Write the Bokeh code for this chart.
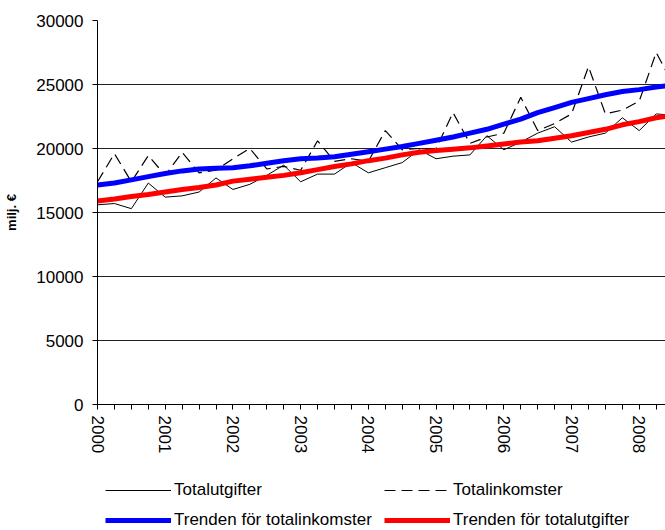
from bokeh.plotting import figure
from bokeh.models import Legend, LegendItem, FixedTicker, Range1d
from bokeh.layouts import column
from bokeh.embed import file_html
from bokeh.resources import INLINE

# quarterly index: 0 = 2000 Q1
quarters = list(range(35))
years = ["2000", "2001", "2002", "2003", "2004", "2005", "2006", "2007", "2008"]

totalutgifter = [15600, 15700, 15300, 17300, 16200, 16300, 16600, 17700,
                 16800, 17200, 17900, 18700, 17400, 18000, 18000, 18900,
                 18100, 18500, 18900, 19900, 19200, 19400, 19500, 21000,
                 19900, 20500, 21200, 21700, 20500, 20900, 21200, 22400,
                 21400, 22700, 22600]

totalinkomster = [17400, 19600, 17400, 19450, 17900, 19700, 18100, 18300,
                  19200, 20000, 18400, 18600, 18300, 20600, 19000, 19200,
                  19000, 21400, 19900, 20000, 20000, 22800, 20400, 20900,
                  21200, 24000, 21400, 21950, 22700, 26400, 22700, 23000,
                  23700, 27500, 25000]

trend_inkomster = [17150, 17300, 17550, 17800, 18050, 18250, 18400, 18450,
                   18500, 18650, 18850, 19050, 19200, 19250, 19350, 19550,
                   19750, 19950, 20150, 20400, 20650, 20900, 21200, 21500,
                   21900, 22300, 22800, 23200, 23600, 23900, 24200, 24450,
                   24600, 24800, 24950]

trend_utgifter = [15900, 16050, 16250, 16400, 16600, 16800, 16950, 17150,
                  17450, 17600, 17750, 17900, 18100, 18350, 18600, 18800,
                  19050, 19250, 19500, 19700, 19850, 19950, 20050, 20200,
                  20350, 20500, 20600, 20800, 21000, 21250, 21500, 21850,
                  22100, 22400, 22600]

y_ticks = [0, 5000, 10000, 15000, 20000, 25000, 30000]

series_labels = ["Totalutgifter", "Totalinkomster",
                 "Trenden för totalinkomster", "Trenden för totalutgifter"]
series_values = [totalutgifter, totalinkomster, trend_inkomster, trend_utgifter]

FONT = "Liberation Sans"

styles = [
    dict(line_color="black", line_width=1),
    dict(line_color="black", line_width=1.2, line_dash="11 6"),
    dict(line_color="#0000FF", line_width=5),
    dict(line_color="#FF0000", line_width=5),
]

# ---------------- main chart ----------------
p = figure(width=665, height=470, output_backend="svg", toolbar_location=None,
           x_range=Range1d(0, 33.55), y_range=Range1d(0, 30000),
           min_border_left=97, min_border_right=0, min_border_top=20,
           min_border_bottom=66)
p.title.visible = False
p.outline_line_color = None
p.background_fill_color = "white"
p.border_fill_color = "white"

p.xaxis.ticker = FixedTicker(ticks=quarters[:34])
overrides = {}
for q in quarters[:34]:
    overrides[q] = years[q // 4] if q % 4 == 0 else ""
p.xaxis.major_label_overrides = overrides
p.xaxis.major_label_orientation = "vertical"
p.xaxis.minor_tick_line_color = None
p.xaxis.major_tick_out = 5
p.xaxis.major_tick_in = 0
p.xaxis.axis_line_color = "black"
p.xaxis.major_tick_line_color = "black"
p.xaxis.major_label_text_font = FONT
p.xaxis.major_label_text_font_size = "17px"
p.xaxis.major_label_text_color = "black"
p.xaxis.major_label_standoff = 6

p.yaxis.ticker = FixedTicker(ticks=y_ticks)
p.yaxis.minor_tick_line_color = None
p.yaxis.major_tick_out = 5
p.yaxis.major_tick_in = 0
p.yaxis.axis_line_color = "black"
p.yaxis.major_tick_line_color = "black"
p.yaxis.major_label_text_font = FONT
p.yaxis.major_label_text_font_size = "17px"
p.yaxis.major_label_text_color = "black"
p.yaxis.major_label_standoff = 9
p.yaxis.axis_label = "milj. €"
p.yaxis.axis_label_text_font = FONT
p.yaxis.axis_label_text_font_size = "13px"
p.yaxis.axis_label_text_font_style = "bold"
p.yaxis.axis_label_text_color = "black"
p.yaxis.axis_label_standoff = 14

p.xgrid.grid_line_color = None
p.ygrid.grid_line_color = "#222222"
p.ygrid.grid_line_width = 1.2

for ys, st in zip(series_values, styles):
    p.line(quarters, ys, **st)

# ---------------- legend strip (series drawn out of view, legend only) ----------------
lg = figure(width=665, height=60, output_backend="svg", toolbar_location=None,
            x_range=Range1d(0, 1), y_range=Range1d(0, 1),
            x_axis_location=None, y_axis_location=None,
            min_border_left=0, min_border_right=0, min_border_top=0,
            min_border_bottom=0)
lg.title.visible = False
lg.outline_line_color = None
lg.xgrid.grid_line_color = None
lg.ygrid.grid_line_color = None

items = []
for lab, ys, st in zip(series_labels, series_values, styles):
    r = lg.line(quarters, ys, **st)
    items.append(LegendItem(label=lab, renderers=[r]))

legend = Legend(items=items, orientation="horizontal", ncols=2, location=(8, 0))
legend.padding = 0
legend.margin = 0
legend.spacing = 10
legend.glyph_width = 66
legend.glyph_height = 16
legend.label_height = 16
legend.label_width = 200
legend.label_standoff = 3
legend.label_text_font = FONT
legend.label_text_font_size = "17px"
legend.label_text_color = "black"
legend.border_line_color = None
legend.background_fill_alpha = 0
lg.add_layout(legend, "center")

layout = column(p, lg, spacing=0)
open("out.html", "w").write(file_html(layout, INLINE))
